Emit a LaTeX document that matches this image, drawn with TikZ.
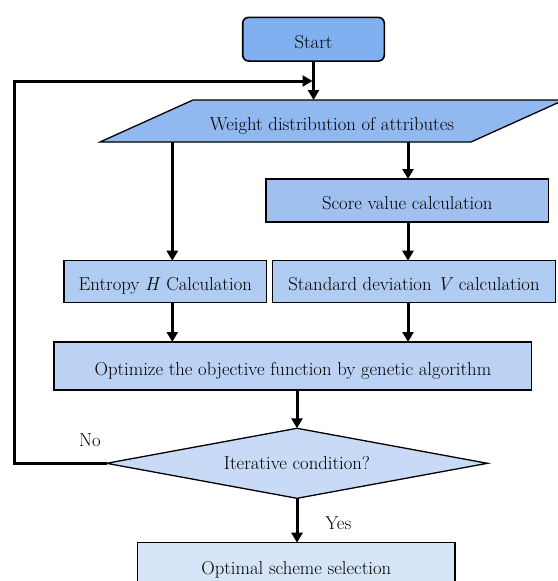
\documentclass[tikz,border=0pt]{standalone}
\usetikzlibrary{arrows.meta,shapes.geometric}
\definecolor{cstart}{RGB}{128,176,240}
\definecolor{cpara}{RGB}{146,184,240}
\definecolor{cscore}{RGB}{160,192,240}
\definecolor{cmid}{RGB}{176,204,242}
\definecolor{copt}{RGB}{188,210,244}
\definecolor{cdia}{RGB}{200,218,246}
\definecolor{cfin}{RGB}{214,228,248}
\begin{document}
\begin{tikzpicture}[x=1pt,y=-1pt,
  every node/.style={font=\fontsize{18.7}{22}\selectfont, inner sep=0pt, outer sep=0pt},
  lowtext/.style={text height=18.5pt, text depth=0pt},
  box/.style={draw=black, line width=1.3pt, rectangle, lowtext},
  conn/.style={line width=3pt, -{Triangle[length=10pt,width=11pt]}}
]
\useasboundingbox (0,0) rectangle (557,581);
\fill[white] (0,0) rectangle (557,581);

\node[box, fill=cstart, rounded corners=6pt, minimum width=141.6pt, minimum height=43.7pt, line width=1.6pt] (start) at (313.5,39.2) {Start};

\filldraw[draw=black, line width=1.3pt, fill=cpara, line join=miter] (100,142) -- (193,100) -- (564,100) -- (471,142) -- cycle;
\node[rectangle, lowtext, minimum width=371pt, minimum height=42pt] (wd) at (332,121) {Weight distribution of attributes};

\node[box, fill=cscore, minimum width=282.7pt, minimum height=43pt] (score) at (407.3,200.5) {Score value calculation};
\node[box, fill=cmid, minimum width=202.7pt, minimum height=42pt] (ent) at (165.3,281.7) {Entropy \textit{H} Calculation};
\node[box, fill=cmid, minimum width=283.4pt, minimum height=42pt] (std) at (414,281.7) {Standard deviation \textit{V} calculation};
\node[box, fill=copt, minimum width=477.7pt, minimum height=48pt] (opt) at (292.9,366) {Optimize the objective function by genetic algorithm};
\node[draw=black, line width=1.3pt, fill=cdia, diamond, aspect=5.43, minimum width=381pt, minimum height=70pt] (dia) at (297,463.3) {\raisebox{-2.5pt}{Iterative condition?}};
\node[box, fill=cfin, minimum width=317.3pt, minimum height=46pt] (fin) at (296.3,565.7) {Optimal scheme selection};

\node (no) at (90,440) {No};
\node (yes) at (338.3,523.3) {Yes};

\coordinate (cl) at (172.3,142);
\coordinate (cr) at (408,142);
\coordinate (j) at (312.5,81);
\coordinate (lc) at (14.7,463.3);

\draw[conn] (start.south) -- (start.south |- wd.north);
\draw[conn] (cr) -- (cr |- score.north);
\draw[conn] (cr |- score.south) -- (cr |- std.north);
\draw[conn] (cl) -- (cl |- ent.north);
\draw[conn] (cl |- ent.south) -- (cl |- opt.north);
\draw[conn] (cr |- std.south) -- (cr |- opt.north);
\draw[conn] (opt.south -| dia.north) -- (dia.north);
\draw[conn] (dia.south) -- (dia.south |- fin.north);
\draw[conn] (dia.west) -- (lc) |- (j);
\end{tikzpicture}
\end{document}
